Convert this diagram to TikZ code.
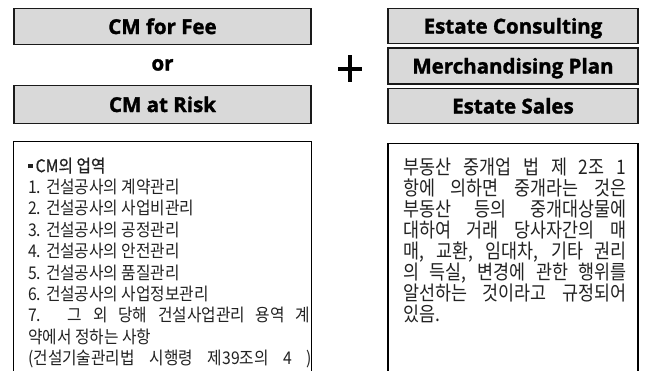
\documentclass[tikz,border=0pt]{standalone}
\usepackage{fontspec}
\newfontfamily\krleft{Noto Sans CJK KR}[FakeStretch=0.9]
\newfontfamily\krleftbold{Noto Sans CJK KR}[FakeStretch=0.9,FakeBold=0.8]
\newfontfamily\krright{Noto Sans CJK KR}[FakeStretch=0.87]
\newfontfamily\hdrfont{Open Sans}[BoldFeatures={FakeBold=1.6}]
\definecolor{boxgray}{HTML}{D9D9D9}
\definecolor{edge}{HTML}{1A1A1A}
\definecolor{txt}{HTML}{222222}
\begin{document}
\begin{tikzpicture}[x=1pt,y=-1pt,
  hdrbox/.style={draw=edge, line width=1.7pt, fill=boxgray, inner sep=0pt,
    text height=15pt, text depth=0pt,
    font=\hdrfont\bfseries\fontsize{20.5}{24}\selectfont},
  hdrtext/.style={inner sep=0pt, text height=15pt, text depth=0pt,
    font=\hdrfont\bfseries\fontsize{20.5}{24}\selectfont},
  textbox/.style={draw=black, line width=1.5pt, fill=white, inner sep=0pt, anchor=north},
  lefttext/.style={inner sep=0pt, anchor=north west, align=left, text=txt,
    font=\krleft\fontsize{17.5}{21.4}\selectfont},
  righttext/.style={inner sep=0pt, anchor=north west, align=left, text=txt,
    font=\krright\fontsize{20}{21}\selectfont},
  plusbar/.style={line width=4pt, draw=black}
]
\useasboundingbox (0,0) rectangle (648,370);
\fill[white] (0,0) rectangle (648,370);

% left column
\node[hdrbox, minimum width=297pt, minimum height=36pt] (fee) at (162.5,26.5) {CM for Fee};
\node[hdrtext] (or) at (162.5,63) {or};
\node[hdrbox, minimum width=297pt, minimum height=38pt] (risk) at (162.5,104.5) {CM at Risk};

% plus
\coordinate (pl) at (338,68.5);
\coordinate (pr) at (362,68.5);
\coordinate (pt) at (350,55);
\coordinate (pb) at (350,82);
\draw[plusbar] (pl) -- (pr);
\draw[plusbar] (pt) -- (pb);

% right column
\node[hdrbox, minimum width=250pt, minimum height=35pt] (ec) at (513,26) {Estate Consulting};
\node[hdrbox, minimum width=250pt, minimum height=36pt] (mp) at (513,66) {Merchandising Plan};
\node[hdrbox, minimum width=250pt, minimum height=35pt] (es) at (513,106) {Estate Sales};

% lower boxes
\node[textbox, minimum width=298pt, minimum height=250pt] (cmbox) at (162.5,140.8) {};
\node[textbox, minimum width=250pt, minimum height=250pt] (lawbox) at (513,142.8) {};

\node[lefttext] (cmtext) at (28,157.5) {%
\rule[4pt]{4.5pt}{4.5pt}\,{\krleftbold CM의 업역}\\
1. 건설공사의 계약관리\\
2. 건설공사의 사업비관리\\
3. 건설공사의 공정관리\\
4. 건설공사의 안전관리\\
5. 건설공사의 품질관리\\
6. 건설공사의 사업정보관리\\
\makebox[282pt][s]{7. 그 외 당해 건설사업관리 용역 계}\\
약에서 정하는 사항\\
\makebox[284pt][s]{(건설기술관리법 시행령 제39조의 4 )}};

\node[righttext] (lawtext) at (403,157.5) {%
\makebox[223pt][s]{부동산 중개업 법 제 2조 1}\\
\makebox[223pt][s]{항에 의하면 중개라는 것은}\\
\makebox[223pt][s]{부동산 등의 중개대상물에}\\
\makebox[223pt][s]{대하여 거래 당사자간의 매}\\
\makebox[223pt][s]{매, 교환, 임대차, 기타 권리}\\
\makebox[223pt][s]{의 득실, 변경에 관한 행위를}\\
\makebox[223pt][s]{알선하는 것이라고 규정되어}\\
있음.};
\end{tikzpicture}
\end{document}
